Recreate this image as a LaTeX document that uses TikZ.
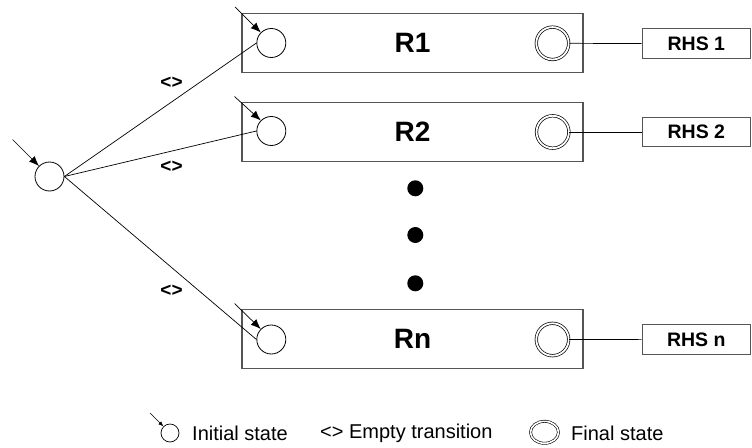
\documentclass[tikz,border=0pt]{standalone}
\usepackage{fontspec}
\setmainfont{Liberation Sans}
\usetikzlibrary{arrows.meta,shapes.geometric}
\definecolor{boxgray}{RGB}{85,85,85}
\begin{document}
\begin{tikzpicture}[x=1pt,y=-1pt,
  state/.style={circle,draw=black,line width=0.8pt,minimum size=29pt,inner sep=0pt},
  final/.style={circle,draw=black,line width=0.7pt,double,double distance=1.8pt,minimum size=32.4pt,inner sep=0pt},
  rbox/.style={rectangle,draw=boxgray,line width=1.2pt,minimum width=341pt,minimum height=59.5pt,inner sep=0pt,
    font=\fontsize{28}{30}\selectfont\bfseries},
  rhsbox/.style={rectangle,draw=boxgray,line width=1pt,minimum width=108.5pt,minimum height=29.3pt,inner sep=0pt,
    font=\fontsize{19.5}{22}\selectfont\bfseries},
  conn/.style={draw=black,line width=0.7pt},
  entry/.style={draw=black,line width=0.7pt,-{Latex[length=10pt,width=8pt]}},
  eps/.style={font=\fontsize{19}{22}\selectfont\bfseries,inner sep=0pt},
  dotmark/.style={circle,fill=black,minimum size=16pt,inner sep=0pt},
  legtext/.style={font=\fontsize{20}{22}\selectfont,anchor=west,inner sep=0pt}]
\useasboundingbox (0,0) rectangle (752,447);

% rule boxes
\node[rbox] (b1) at (412.5,43) {R1};
\node[rbox] (b2) at (412.5,132) {R2};
\node[rbox] (bn) at (412.5,339) {Rn};

% start state and the initial states of each rule
\node[state] (q0) at (49.5,176.5) {};
\node[state] (i1) at (271.3,43) {};
\node[state] (i2) at (271.3,131) {};
\node[state] (in) at (271.3,339.5) {};

% final states
\node[final] (f1) at (552.5,43.3) {};
\node[final] (f2) at (552.7,132) {};
\node[final] (fn) at (552.5,339.5) {};

% right-hand sides
\node[rhsbox] (h1) at (696.3,43.6) {RHS 1};
\node[rhsbox] (h2) at (696.3,132) {RHS 2};
\node[rhsbox] (hn) at (696.3,339.6) {RHS n};

% entry arrows
\coordinate (s0) at (12.5,139.5);
\coordinate (s1) at (235,7);
\coordinate (s2) at (234.5,96.5);
\coordinate (sn) at (234.5,303.5);
\draw[entry] (s0) -- (q0.north west);
\draw[entry] (s1) -- (i1.north west);
\draw[entry] (s2) -- (i2.north west);
\draw[entry] (sn) -- (in.north west);

% empty transitions
\draw[conn] (q0.east) -- (i1.west);
\draw[conn] (q0.east) -- (i2.west);
\draw[conn] (q0.east) -- (in.west);
\node[eps] (e1) at (171.5,83) {<>};
\node[eps] (e2) at (171.5,167) {<>};
\node[eps] (en) at (171.5,290.5) {<>};

% links to right-hand sides
\draw[conn] (f1.east) -- (h1.west);
\draw[conn] (f2.east) -- (h2.west);
\draw[conn] (fn.east) -- (hn.west);

% ellipsis dots
\node[dotmark] (d1) at (415.3,188.3) {};
\node[dotmark] (d2) at (415.3,235) {};
\node[dotmark] (d3) at (415.3,283.3) {};

% legend
\node[circle,draw=black,line width=0.7pt,minimum size=18pt,inner sep=0pt] (li) at (170,433) {};
\coordinate (ls) at (150,413);
\draw[draw=black,line width=0.6pt,-{Latex[length=5pt,width=4pt]}] (ls) -- (li.north west);
\node[legtext] (lt1) at (192,433) {Initial state};
\node[legtext] (lt2) at (320,433) {<> Empty transition};
\node[ellipse,draw=black,line width=0.6pt,double,double distance=1.6pt,minimum width=28pt,minimum height=22pt,inner sep=0pt] (lf) at (544.5,432.3) {};
\node[legtext] (lt3) at (571,433) {Final state};
\end{tikzpicture}
\end{document}
